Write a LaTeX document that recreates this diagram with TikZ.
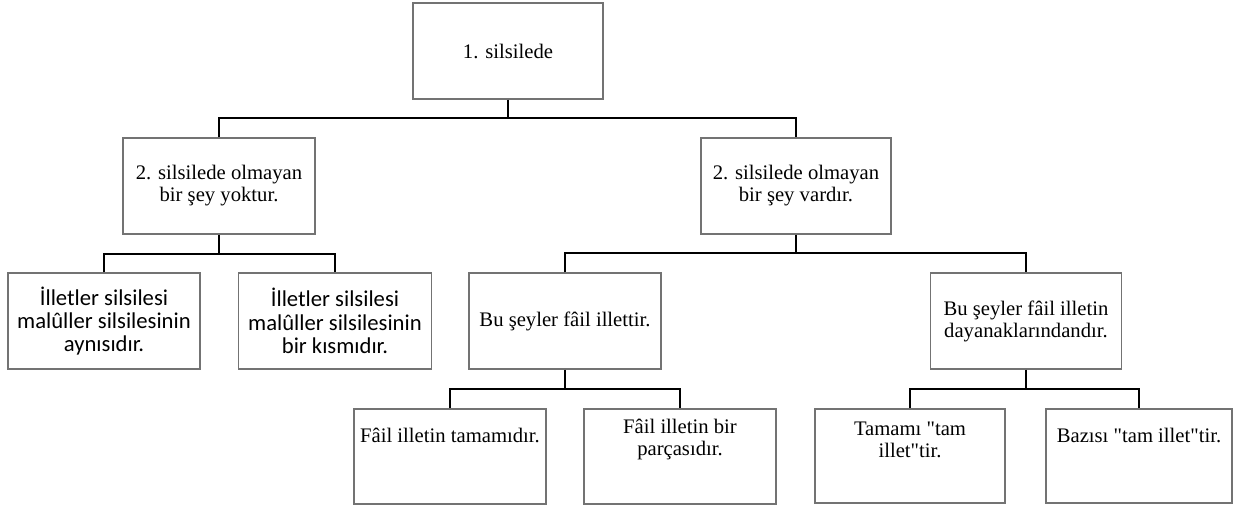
\documentclass[tikz,border=0pt]{standalone}
\usepackage{fontspec}
\setmainfont{Liberation Serif}
\newfontfamily\boxsans{Carlito}
\font\plainquotefont="Liberation Serif" at 15.5pt
\newcommand{\sq}{{\plainquotefont\char34}}
\begin{document}
\begin{tikzpicture}[x=0.75pt,y=-0.75pt,
  box/.style={draw=black!55, line width=1pt, fill=white, rectangle, inner sep=0pt,
    minimum height=72pt, align=center, font=\fontsize{15.5}{16.5}\selectfont},
  sbox/.style={box, font=\boxsans\fontsize{17}{17.5}\selectfont},
  txt/.style={inner sep=0pt, align=center, font=\fontsize{15.5}{16.5}\selectfont},
  conn/.style={draw=black, line width=2pt, line join=miter}]
\useasboundingbox (0,0) rectangle (1247,508);
% nodes
\node[box, minimum width=142.5pt] (root) at (508,51) {1. silsilede};
\node[box, minimum width=144pt] (a) at (219,186) {2. silsilede olmayan\\bir şey yoktur.};
\node[box, minimum width=142.5pt] (b) at (796,186) {2. silsilede olmayan\\bir şey vardır.};
\node[sbox, minimum width=144pt] (a1) at (104,321) {İlletler silsilesi\\malûller silsilesinin\\aynısıdır.};
\node[sbox, minimum width=144.75pt] (a2) at (335,321) {İlletler silsilesi\\malûller silsilesinin\\bir kısmıdır.};
\node[box, minimum width=144pt] (b1) at (565,321) {Bu şeyler fâil illettir.};
\node[box, minimum width=143.25pt] (b2) at (1026,321) {Bu şeyler fâil illetin\\dayanaklarındandır.};
\node[box, minimum width=144pt, minimum height=71.25pt] (b11) at (450,456.5) {};
\node[box, minimum width=144pt, minimum height=71.25pt] (b12) at (680,456.5) {};
\node[box, minimum width=142.5pt, minimum height=70.5pt] (b21) at (910,456) {};
\node[box, minimum width=139.5pt, minimum height=70.5pt] (b22) at (1139,456) {};
\node[txt] (b11t) at (450,435) {Fâil illetin tamamıdır.};
\node[txt] (b12t) at (680,440) {Fâil illetin bir\\parçasıdır.};
\node[txt] (b21t) at (910,440) {Tamamı \sq tam\\illet\sq tir.};
\node[txt] (b22t) at (1139,435) {Bazısı \sq tam illet\sq tir.};
% junctions
\coordinate (j0) at (508,118);
\coordinate (j1) at (219,254);
\coordinate (j2) at (796,253);
\coordinate (j3) at (565,389);
\coordinate (j4) at (1026,389);
% connectors
\draw[conn] (root.south) -- (j0);
\draw[conn] (a.north) |- (j0) -| (b.north);
\draw[conn] (a.south) -- (j1);
\draw[conn] (a1.north) |- (j1) -| (a2.north);
\draw[conn] (b.south) -- (j2);
\draw[conn] (b1.north) |- (j2) -| (b2.north);
\draw[conn] (b1.south) -- (j3);
\draw[conn] (b11.north) |- (j3) -| (b12.north);
\draw[conn] (b2.south) -- (j4);
\draw[conn] (b21.north) |- (j4) -| (b22.north);
\end{tikzpicture}
\end{document}
